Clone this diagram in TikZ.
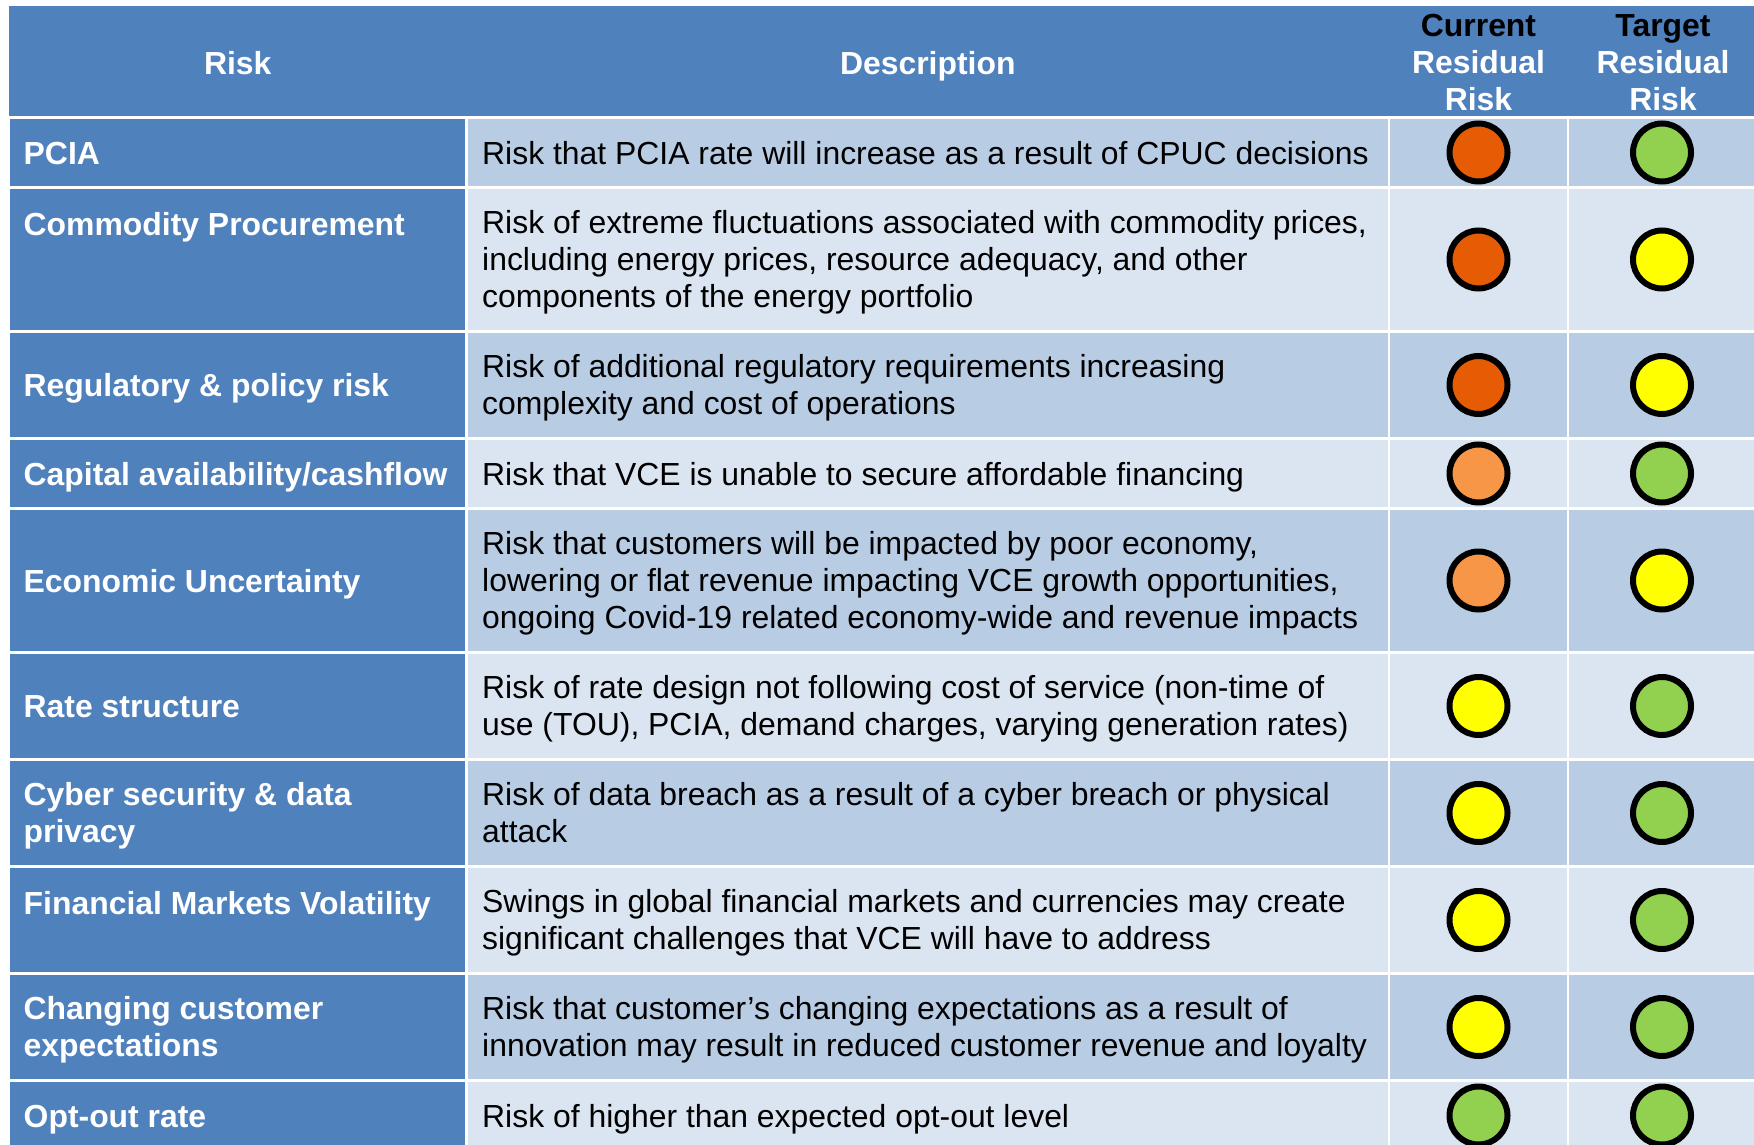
\documentclass[tikz,border=0pt]{standalone}
\usepackage{fontspec}
\setmainfont{Liberation Sans}
\usetikzlibrary{positioning}

\definecolor{hdrblue}{RGB}{79,129,189}
\definecolor{rowdark}{RGB}{184,204,228}
\definecolor{rowlight}{RGB}{219,229,241}
\definecolor{lampred}{RGB}{229,92,5}
\definecolor{lamporange}{RGB}{247,150,70}
\definecolor{lampyellow}{RGB}{255,255,0}
\definecolor{lampgreen}{RGB}{146,208,80}

\newcommand\tablefont{\fontsize{31.9}{37}\selectfont}

\tikzset{
  cell/.style={draw=white, line width=2.5pt, inner sep=0pt, outer sep=0pt, anchor=north west},
  colA/.style={minimum width=457.5pt},
  colB/.style={minimum width=922.5pt},
  colC/.style={minimum width=179pt},
  colD/.style={minimum width=190pt},
  rowone/.style={minimum height=70pt},
  rowtwo/.style={minimum height=107pt},
  rowthree/.style={minimum height=144pt},
  headtext/.style={text=white, font=\tablefont\bfseries, align=center, inner sep=0pt, yshift=-6pt,
    execute at begin node=\strut, execute at end node=\strut},
  risklabel/.style={anchor=west, text=white, font=\tablefont\bfseries, align=left, inner sep=0pt, yshift=-4.5pt,
    execute at begin node=\strut, execute at end node=\strut},
  desctext/.style={anchor=west, text=black, font=\tablefont, align=left, inner sep=0pt, yshift=-4.5pt,
    execute at begin node=\strut, execute at end node=\strut},
  lamp/.style={circle, draw=black, line width=6pt, minimum size=58pt, inner sep=0pt}
}

\begin{document}
\begin{tikzpicture}[x=1pt, y=-1pt]
  \useasboundingbox (0,0) rectangle (1754,1145);
  \clip (0,0) rectangle (1754,1145);

  % Header band
  \node[cell, draw=none, fill=hdrblue, minimum width=1750pt, minimum height=112pt] (head) at (9,5.6) {};

  % Cells
  \node[cell, fill=hdrblue, colA, rowone] (r1a) at (9,117.5) {};
  \node[cell, fill=rowdark, colB, rowone, right=0pt of r1a] (r1b) {};
  \node[cell, fill=rowdark, colC, rowone, right=0pt of r1b] (r1c) {};
  \node[cell, fill=rowdark, colD, rowone, right=0pt of r1c] (r1d) {};

  \node[cell, fill=hdrblue, colA, rowthree, below=0pt of r1a.south west, anchor=north west] (r2a) {};
  \node[cell, fill=rowlight, colB, rowthree, right=0pt of r2a] (r2b) {};
  \node[cell, fill=rowlight, colC, rowthree, right=0pt of r2b] (r2c) {};
  \node[cell, fill=rowlight, colD, rowthree, right=0pt of r2c] (r2d) {};

  \node[cell, fill=hdrblue, colA, rowtwo, below=0pt of r2a.south west, anchor=north west] (r3a) {};
  \node[cell, fill=rowdark, colB, rowtwo, right=0pt of r3a] (r3b) {};
  \node[cell, fill=rowdark, colC, rowtwo, right=0pt of r3b] (r3c) {};
  \node[cell, fill=rowdark, colD, rowtwo, right=0pt of r3c] (r3d) {};

  \node[cell, fill=hdrblue, colA, rowone, below=0pt of r3a.south west, anchor=north west] (r4a) {};
  \node[cell, fill=rowlight, colB, rowone, right=0pt of r4a] (r4b) {};
  \node[cell, fill=rowlight, colC, rowone, right=0pt of r4b] (r4c) {};
  \node[cell, fill=rowlight, colD, rowone, right=0pt of r4c] (r4d) {};

  \node[cell, fill=hdrblue, colA, rowthree, below=0pt of r4a.south west, anchor=north west] (r5a) {};
  \node[cell, fill=rowdark, colB, rowthree, right=0pt of r5a] (r5b) {};
  \node[cell, fill=rowdark, colC, rowthree, right=0pt of r5b] (r5c) {};
  \node[cell, fill=rowdark, colD, rowthree, right=0pt of r5c] (r5d) {};

  \node[cell, fill=hdrblue, colA, rowtwo, below=0pt of r5a.south west, anchor=north west] (r6a) {};
  \node[cell, fill=rowlight, colB, rowtwo, right=0pt of r6a] (r6b) {};
  \node[cell, fill=rowlight, colC, rowtwo, right=0pt of r6b] (r6c) {};
  \node[cell, fill=rowlight, colD, rowtwo, right=0pt of r6c] (r6d) {};

  \node[cell, fill=hdrblue, colA, rowtwo, below=0pt of r6a.south west, anchor=north west] (r7a) {};
  \node[cell, fill=rowdark, colB, rowtwo, right=0pt of r7a] (r7b) {};
  \node[cell, fill=rowdark, colC, rowtwo, right=0pt of r7b] (r7c) {};
  \node[cell, fill=rowdark, colD, rowtwo, right=0pt of r7c] (r7d) {};

  \node[cell, fill=hdrblue, colA, rowtwo, below=0pt of r7a.south west, anchor=north west] (r8a) {};
  \node[cell, fill=rowlight, colB, rowtwo, right=0pt of r8a] (r8b) {};
  \node[cell, fill=rowlight, colC, rowtwo, right=0pt of r8b] (r8c) {};
  \node[cell, fill=rowlight, colD, rowtwo, right=0pt of r8c] (r8d) {};

  \node[cell, fill=hdrblue, colA, rowtwo, below=0pt of r8a.south west, anchor=north west] (r9a) {};
  \node[cell, fill=rowdark, colB, rowtwo, right=0pt of r9a] (r9b) {};
  \node[cell, fill=rowdark, colC, rowtwo, right=0pt of r9b] (r9c) {};
  \node[cell, fill=rowdark, colD, rowtwo, right=0pt of r9c] (r9d) {};

  \node[cell, fill=hdrblue, colA, rowone, below=0pt of r9a.south west, anchor=north west] (r10a) {};
  \node[cell, fill=rowlight, colB, rowone, right=0pt of r10a] (r10b) {};
  \node[cell, fill=rowlight, colC, rowone, right=0pt of r10b] (r10c) {};
  \node[cell, fill=rowlight, colD, rowone, right=0pt of r10c] (r10d) {};

  % Header text
  \node[headtext] (hrisk) at (r1a |- head) {Risk};
  \node[headtext] (hdesc) at (r1b |- head) {Description};
  \node[headtext] (hcur) at (r1c |- head) {\textcolor{black}{Current}\\Residual\\Risk};
  \node[headtext] (htgt) at (r1d |- head) {\textcolor{black}{Target}\\Residual\\Risk};

  % Descriptions
  \node[desctext] (d1) at ([xshift=15.5pt]r1b.west) {Risk that PCIA rate will increase as a result of CPUC decisions};
  \node[desctext] (d2) at ([xshift=15.5pt]r2b.west) {Risk of extreme fluctuations associated with commodity prices,\\including energy prices, resource adequacy, and other\\components of the energy portfolio};
  \node[desctext] (d3) at ([xshift=15.5pt]r3b.west) {Risk of additional regulatory requirements increasing\\complexity and cost of operations};
  \node[desctext] (d4) at ([xshift=15.5pt]r4b.west) {Risk that VCE is unable to secure affordable financing};
  \node[desctext] (d5) at ([xshift=15.5pt]r5b.west) {Risk that customers will be impacted by poor economy,\\lowering or flat revenue impacting VCE growth opportunities,\\ongoing Covid-19 related economy-wide and revenue impacts};
  \node[desctext] (d6) at ([xshift=15.5pt]r6b.west) {Risk of rate design not following cost of service (non-time of\\use (TOU), PCIA, demand charges, varying generation rates)};
  \node[desctext] (d7) at ([xshift=15.5pt]r7b.west) {Risk of data breach as a result of a cyber breach or physical\\attack};
  \node[desctext] (d8) at ([xshift=15.5pt]r8b.west) {Swings in global financial markets and currencies may create\\significant challenges that VCE will have to address};
  \node[desctext] (d9) at ([xshift=15.5pt]r9b.west) {Risk that customer’s changing expectations as a result of\\innovation may result in reduced customer revenue and loyalty};
  \node[desctext] (d10) at ([xshift=15.5pt]r10b.west) {Risk of higher than expected opt-out level};

  % Risk names
  \node[risklabel] (l1) at ([xshift=14.5pt]r1a.west) {PCIA};
  \node[risklabel, anchor=north west, yshift=4.5pt] (l2) at ([xshift=14.5pt]r2a.west |- d2.north) {Commodity Procurement};
  \node[risklabel] (l3) at ([xshift=14.5pt]r3a.west) {Regulatory \& policy risk};
  \node[risklabel] (l4) at ([xshift=14.5pt]r4a.west) {Capital availability/cashflow};
  \node[risklabel] (l5) at ([xshift=14.5pt]r5a.west) {Economic Uncertainty};
  \node[risklabel] (l6) at ([xshift=14.5pt]r6a.west) {Rate structure};
  \node[risklabel] (l7) at ([xshift=14.5pt]r7a.west) {Cyber security \& data\\privacy};
  \node[risklabel, anchor=north west, yshift=4.5pt] (l8) at ([xshift=14.5pt]r8a.west |- d8.north) {Financial Markets Volatility};
  \node[risklabel] (l9) at ([xshift=14.5pt]r9a.west) {Changing customer\\expectations};
  \node[risklabel] (l10) at ([xshift=14.5pt]r10a.west) {Opt-out rate};

  % Current residual risk
  \node[lamp, fill=lampred] (c1) at (r1c) {};
  \node[lamp, fill=lampred] (c2) at (r2c) {};
  \node[lamp, fill=lampred] (c3) at (r3c) {};
  \node[lamp, fill=lamporange] (c4) at (r4c) {};
  \node[lamp, fill=lamporange] (c5) at (r5c) {};
  \node[lamp, fill=lampyellow] (c6) at (r6c) {};
  \node[lamp, fill=lampyellow] (c7) at (r7c) {};
  \node[lamp, fill=lampyellow] (c8) at (r8c) {};
  \node[lamp, fill=lampyellow] (c9) at (r9c) {};
  \node[lamp, fill=lampgreen] (c10) at (r10c) {};

  % Target residual risk
  \node[lamp, fill=lampgreen] (t1) at (r1c -| 1662,0) {};
  \node[lamp, fill=lampyellow] (t2) at (r2c -| 1662,0) {};
  \node[lamp, fill=lampyellow] (t3) at (r3c -| 1662,0) {};
  \node[lamp, fill=lampgreen] (t4) at (r4c -| 1662,0) {};
  \node[lamp, fill=lampyellow] (t5) at (r5c -| 1662,0) {};
  \node[lamp, fill=lampgreen] (t6) at (r6c -| 1662,0) {};
  \node[lamp, fill=lampgreen] (t7) at (r7c -| 1662,0) {};
  \node[lamp, fill=lampgreen] (t8) at (r8c -| 1662,0) {};
  \node[lamp, fill=lampgreen] (t9) at (r9c -| 1662,0) {};
  \node[lamp, fill=lampgreen] (t10) at (r10c -| 1662,0) {};
\end{tikzpicture}
\end{document}
